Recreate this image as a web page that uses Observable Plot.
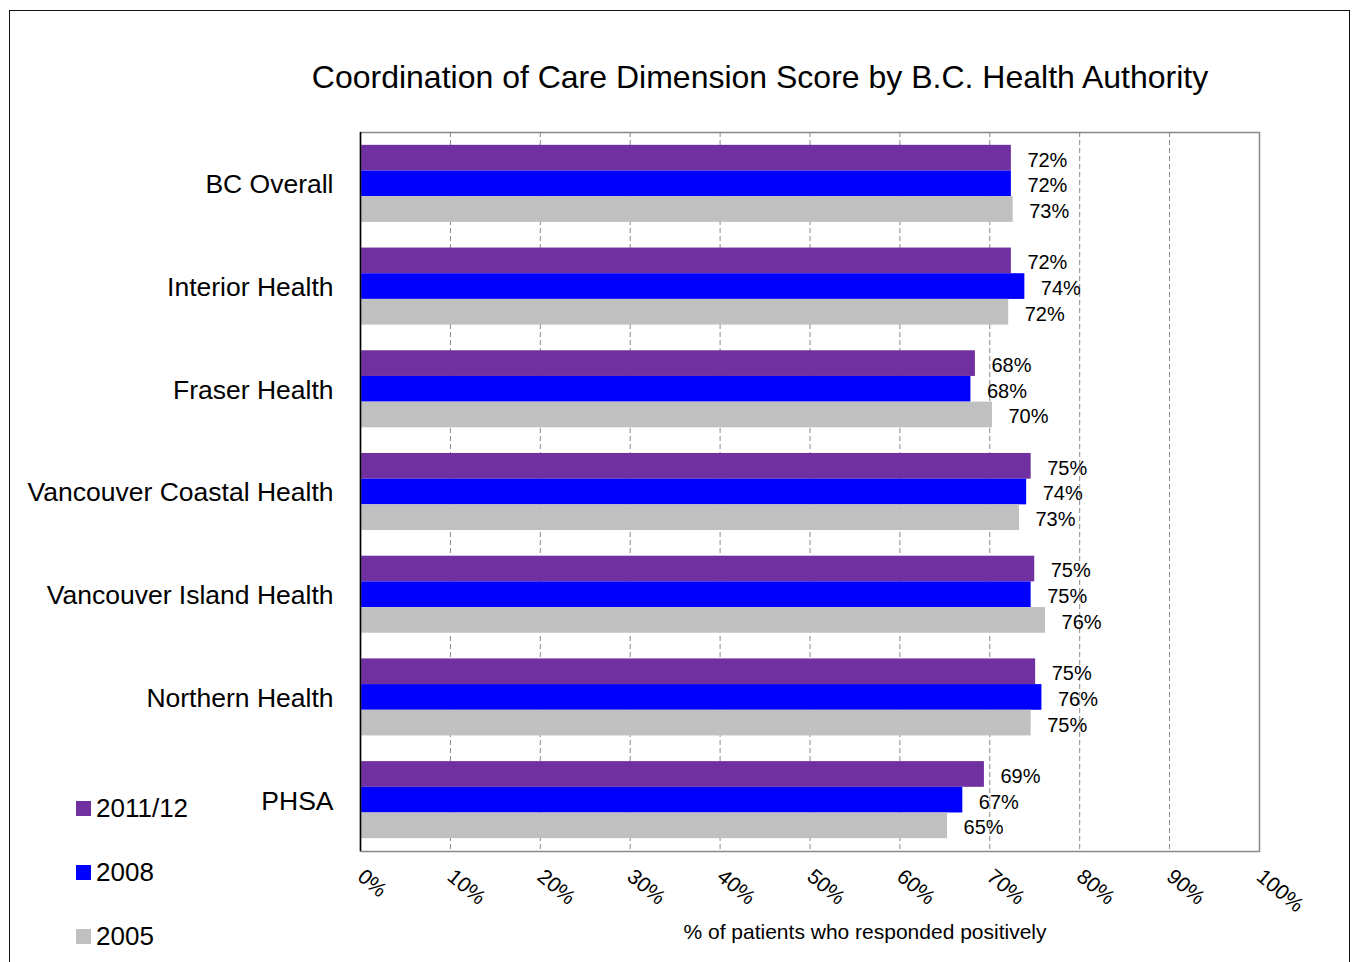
<!DOCTYPE html>
<html>
<head>
<meta charset="utf-8">
<script src="https://cdn.jsdelivr.net/npm/d3@7"></script>
<script src="https://cdn.jsdelivr.net/npm/@observablehq/plot@0.6"></script>
<style>
  html, body { margin: 0; padding: 0; background: #fff; overflow: hidden; }
  body { width: 1356px; height: 962px; position: relative; font-family: "Liberation Sans", Arial, sans-serif; }
  #border { position: absolute; left: 9px; top: 10px; width: 1341px; height: 1000px; border: 1.5px solid #111; box-sizing: border-box; }
  #chart { position: absolute; left: 0; top: 0; }
  #title { position: absolute; left: 0; width: 1520px; top: 59px; text-align: center; font-size: 32px; line-height: 37px; color: #000; white-space: nowrap; }
  #xlabel { position: absolute; left: 565px; width: 600px; top: 919px; text-align: center; font-size: 21px; line-height: 25px; color: #000; }
  #legend { position: absolute; left: 76px; top: 793px; }
  .item { position: absolute; left: 0; height: 30px; display: flex; align-items: center; font-size: 26px; color: #000; white-space: nowrap; }
  .sw { width: 15px; height: 15px; margin-right: 5px; }
</style>
</head>
<body>
<div id="border"></div>
<div id="chart"></div>
<div id="title">Coordination of Care Dimension Score by B.C. Health Authority</div>
<div id="xlabel">% of patients who responded positively</div>
<div id="legend"></div>
<script>
const regions = ["BC Overall", "Interior Health", "Fraser Health", "Vancouver Coastal Health", "Vancouver Island Health", "Northern Health", "PHSA"];
const seriesNames = ["2011/12", "2008", "2005"];
const values2011 = [0.724, 0.724, 0.684, 0.746, 0.750, 0.751, 0.694];
const values2008 = [0.724, 0.739, 0.679, 0.741, 0.746, 0.758, 0.670];
const values2005 = [0.726, 0.721, 0.703, 0.733, 0.762, 0.746, 0.653];
const seriesColors = ["#7030A0", "#0000FF", "#C0C0C0"];
const xTicks = [0, 0.1, 0.2, 0.3, 0.4, 0.5, 0.6, 0.7, 0.8, 0.9, 1.0];

const seriesValues = [values2011, values2008, values2005];
const rows = regions.flatMap((r, i) => seriesNames.map((s, j) => ({
  region: r, series: s, value: seriesValues[j][i], slot: i * 4 + 0.5 + j
})));
const regionRows = regions.map((r, i) => ({region: r, center: i * 4 + 2}));

const chart = Plot.plot({
  width: 1356,
  height: 962,
  marginLeft: 360,
  marginRight: 97,
  marginTop: 132,
  marginBottom: 111,
  style: {fontFamily: "'Liberation Sans', Arial, sans-serif", fontSize: "21px", color: "#000", background: "transparent"},
  x: {domain: [0, 1], ticks: xTicks, tickFormat: "%", tickRotate: 40, tickSize: 0, tickPadding: 22, label: null},
  y: {domain: [0, regions.length * 4], reverse: true, axis: null},
  color: {domain: seriesNames, range: seriesColors},
  marks: [
    Plot.ruleX(xTicks.slice(1, -1), {stroke: "#888", strokeWidth: 1, strokeDasharray: "5,3"}),
    Plot.rectX(rows, {x1: 0, x2: "value", y1: "slot", y2: d => d.slot + 1, fill: "series"}),
    Plot.frame({stroke: "#888", strokeWidth: 1.5}),
    Plot.ruleX([0], {stroke: "#000", strokeWidth: 1.5}),
    Plot.text(rows, {x: "value", y: d => d.slot + 0.5, text: d => d3.format(".0%")(d.value), textAnchor: "start", dx: 16, dy: 2, fontSize: 20, fill: "#000"}),
    Plot.text(regionRows, {x: 0, y: "center", text: "region", textAnchor: "end", dx: -27, dy: 1, fontSize: 26.5, fill: "#000"})
  ]
});
document.getElementById("chart").appendChild(chart);

const legend = document.getElementById("legend");
seriesNames.forEach((s, j) => {
  const item = document.createElement("div");
  item.className = "item";
  item.style.top = (j * 64) + "px";
  const sw = document.createElement("div");
  sw.className = "sw";
  sw.style.background = seriesColors[j];
  const label = document.createElement("span");
  label.textContent = s;
  item.appendChild(sw);
  item.appendChild(label);
  legend.appendChild(item);
});
</script>
</body>
</html>
